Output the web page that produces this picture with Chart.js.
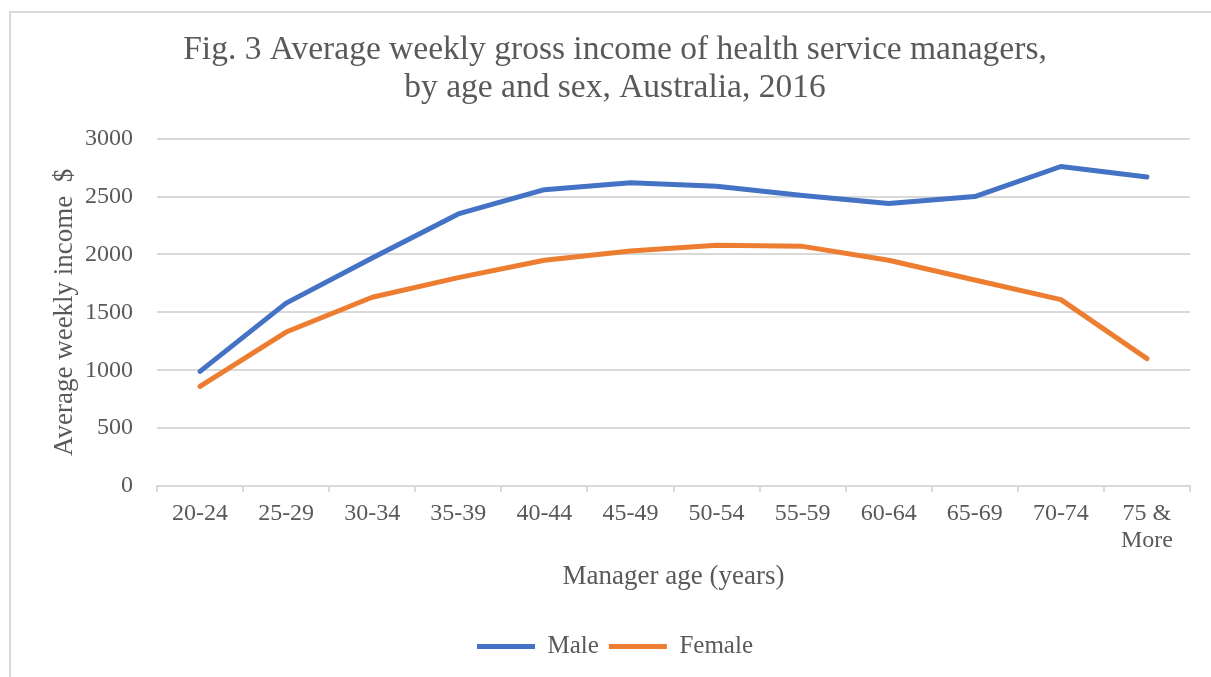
<!DOCTYPE html>
<html>
<head>
<meta charset="utf-8">
<script src="https://cdn.jsdelivr.net/npm/chart.js@4/dist/chart.umd.min.js"></script>
<style>
  html, body { margin: 0; padding: 0; background: #ffffff; overflow: hidden; width: 1211px; height: 677px; }
  #frame { position: absolute; left: 9px; top: 11px; width: 1240px; height: 700px; border-left: 2px solid #d9d9d9; border-top: 2px solid #d9d9d9; }
  #wrap { position: absolute; left: 10px; top: 12px; width: 1210px; height: 665px; }
</style>
</head>
<body>
<div id="frame"></div>
<div id="wrap"><canvas id="c"></canvas></div>
<script>
const categories = ["20-24", "25-29", "30-34", "35-39", "40-44", "45-49", "50-54", "55-59", "60-64", "65-69", "70-74", ["75 &", "More"]];
const maleValues = [990, 1580, 1970, 2350, 2560, 2620, 2590, 2510, 2440, 2500, 2760, 2670];
const femaleValues = [860, 1330, 1630, 1800, 1950, 2030, 2080, 2070, 1950, 1780, 1610, 1100];
const titleLines = ["Fig. 3 Average weekly gross income of health service managers,", "by age and sex, Australia, 2016"];
const xTitle = "Manager age (years)";
const yTitle = "Average weekly income  $";

const serif = "'Liberation Serif', 'Times New Roman', serif";
const textColor = "#595959";
const gridColor = "#d9d9d9";

new Chart(document.getElementById("c"), {
  type: "line",
  data: {
    labels: categories,
    datasets: [
      { label: "Male", data: maleValues, borderColor: "#4472C4", backgroundColor: "#4472C4", borderWidth: 5, pointRadius: 0, tension: 0, borderCapStyle: "round", borderJoinStyle: "round" },
      { label: "Female", data: femaleValues, borderColor: "#ED7D31", backgroundColor: "#ED7D31", borderWidth: 5, pointRadius: 0, tension: 0, borderCapStyle: "round", borderJoinStyle: "round" }
    ]
  },
  options: {
    responsive: true,
    maintainAspectRatio: false,
    animation: false,
    layout: { padding: { left: 30, right: 30, top: 0, bottom: 8 } },
    plugins: {
      title: {
        display: true,
        text: titleLines,
        color: textColor,
        font: { family: serif, size: 33.5, weight: "normal", lineHeight: 1.13 },
        padding: { top: 19, bottom: 32 }
      },
      legend: {
        position: "bottom",
        labels: {
          usePointStyle: true,
          pointStyle: "line",
          pointStyleWidth: 58,
          color: textColor,
          font: { family: serif, size: 25 },
          padding: 10
        }
      },
      tooltip: { enabled: false }
    },
    scales: {
      x: {
        offset: true,
        grid: { offset: true, drawOnChartArea: false, drawTicks: true, tickLength: 6, color: gridColor, lineWidth: 2 },
        border: { display: true, color: gridColor, width: 2 },
        ticks: { color: textColor, font: { family: serif, size: 24, lineHeight: 1.12 }, padding: 8, maxRotation: 0, autoSkip: false },
        title: { display: true, text: xTitle, color: textColor, font: { family: serif, size: 27, lineHeight: 1.2 }, padding: { top: 0, bottom: 31 } },
        afterFit: (scale) => { scale.height = 138; }
      },
      y: {
        min: 0,
        max: 3000,
        ticks: { stepSize: 500, color: textColor, font: { family: serif, size: 24 }, padding: 24, callback: (v) => String(v) },
        grid: { color: gridColor, lineWidth: 2, drawTicks: false },
        border: { display: false },
        title: { display: true, text: yTitle, color: textColor, font: { family: serif, size: 27, lineHeight: 1.2 }, padding: { top: 9, bottom: 0 } },
        afterFit: (scale) => { scale.width = 117; }
      }
    }
  }
});
</script>
</body>
</html>
